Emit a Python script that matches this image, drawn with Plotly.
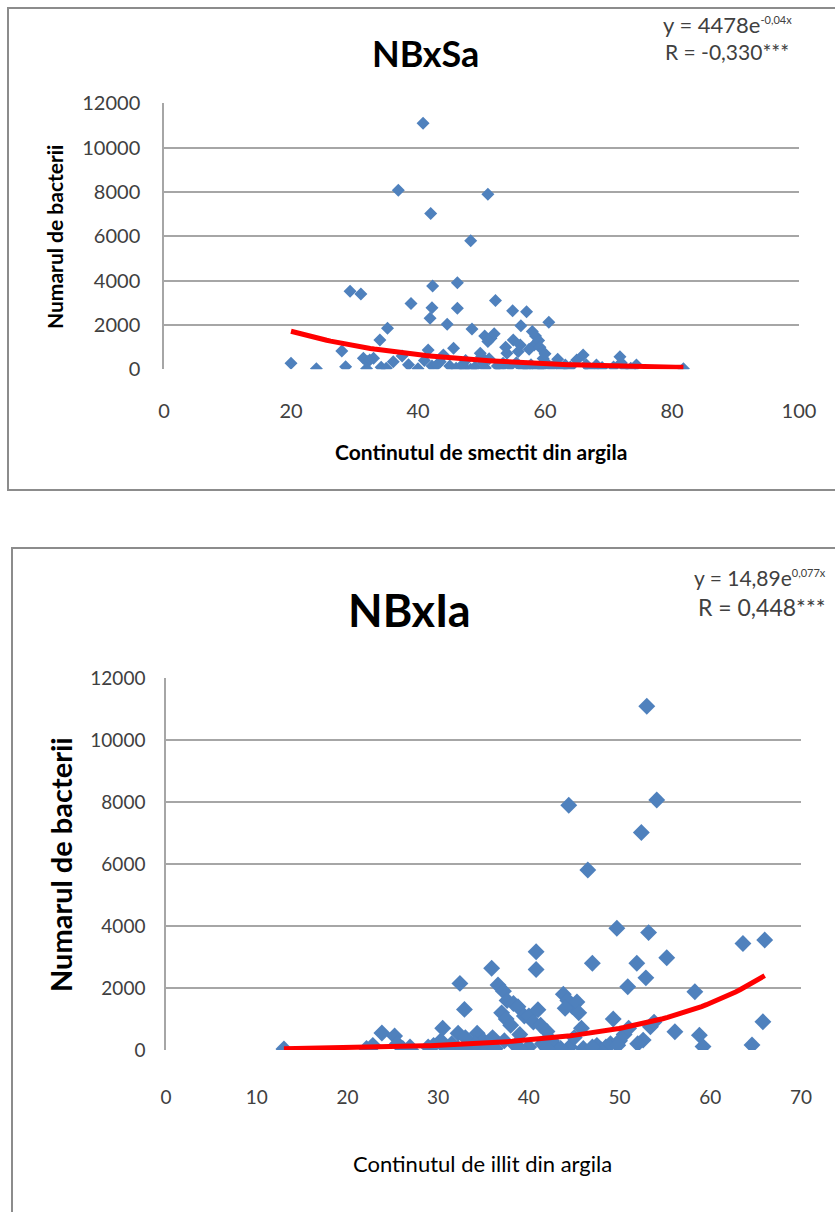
import numpy as np
import plotly.graph_objects as go

# ---------------- data: top chart (smectite content vs bacteria) ----------------
smectit_x = [20.0, 24.0, 28.0, 28.6, 29.3, 31.0, 31.4, 32.0, 32.4, 31.9, 34.0, 34.2, 35.2, 36.1,
             36.9, 38.9, 40.0, 40.8, 41.6, 41.9, 42.0, 42.2, 42.3, 42.2, 43.5, 44.0, 44.6, 45.6,
             46.0, 46.2, 46.2, 47.3, 48.3, 48.5, 48.3, 49.8, 50.0, 50.6, 50.5, 51.0, 51.0, 51.2,
             51.5, 52.0, 52.2, 53.4, 54.0, 54.9, 55.0, 56.1, 56.2, 57.1, 57.1, 58.0, 58.3, 58.5,
             58.9, 59.0, 59.7, 60.6, 61.8, 63.2, 65.0, 66.0, 68.1, 70.8, 71.8, 72.0, 74.4, 81.8,
             45.0, 47.0, 49.0, 52.5, 53.0, 54.5, 55.5, 56.5, 57.8, 59.5, 60.2, 61.0, 62.5, 64.0,
             66.5, 67.0, 69.0, 72.5, 73.5, 37.5, 38.5, 33.0, 35.0, 41.0, 43.0, 47.5, 50.3, 55.8,
             53.8, 57.5, 59.2, 60.0, 62.0]
smectit_bact = [270, 30, 830, 120, 3520, 3400, 500, 350, 420, 30, 1320, 90, 1850, 340,
                8080, 2970, 20, 11100, 870, 2300, 7030, 2780, 3760, 150, 340, 640, 2030, 950,
                50, 3900, 2750, 50, 5800, 1820, 0, 720, 570, 60, 1500, 1250, 7900, 480,
                1400, 1600, 3100, 270, 720, 2640, 1320, 1100, 1970, 2600, 100, 1700, 1100, 1500,
                0, 1300, 490, 2120, 270, 190, 420, 640, 190, 100, 570, 300, 190, 30,
                150, 200, 100, 150, 50, 150, 300, 50, 200, 80, 300, 100, 60, 100,
                200, 50, 80, 100, 50, 600, 200, 500, 50, 400, 200, 400, 300, 800,
                1000, 900, 1000, 700, 450]

# ---------------- data: bottom chart (illite content vs bacteria) ----------------
illit_x = [13.0, 22.1, 22.5, 22.8, 23.8, 25.2, 25.5, 26.1, 26.9, 28.9, 30.3, 30.5, 30.7, 31.5,
           32.2, 32.2, 32.4, 32.9, 33.5, 34.3, 34.5, 35.0, 35.5, 35.9, 36.0, 36.6, 36.3, 37.2,
           37.6, 38.3, 38.8, 37.0, 37.5, 38.0, 37.3, 38.5, 39.0, 39.5, 40.0, 40.5, 41.0, 41.3,
           40.0, 40.8, 40.8, 41.5, 42.0, 43.0, 43.8, 44.3, 44.8, 45.3, 45.5, 44.0, 44.4, 44.5,
           45.0, 46.0, 46.5, 47.0, 47.5, 48.0, 48.5, 49.0, 49.3, 49.7, 50.0, 50.5, 50.9, 51.9,
           52.4, 52.6, 52.9, 53.0, 53.2, 53.4, 53.8, 54.1, 55.2, 56.1, 58.3, 58.8, 59.2, 63.6,
           64.6, 65.8, 66.0, 34.0, 39.0, 42.5, 43.5, 47.0, 49.8, 51.0, 52.0, 33.0, 31.0, 29.5,
           27.0, 45.8, 42.0]
illit_bact = [30, 50, 0, 150, 550, 450, 200, 50, 100, 100, 300, 700, 100, 200,
              540, 50, 2150, 1310, 100, 540, 100, 300, 50, 2640, 400, 2100, 50, 1900,
              1600, 1500, 1400, 1200, 1000, 800, 300, 150, 500, 1100, 1100, 900, 1300, 800,
              100, 3170, 2600, 200, 600, 100, 1800, 1600, 1400, 1550, 1200, 1350, 7900, 100,
              400, 50, 5810, 2800, 150, 0, 100, 200, 1000, 3930, 300, 500, 2040, 2800,
              7020, 320, 2330, 11100, 3790, 750, 900, 8070, 2980, 590, 1880, 480, 110, 3440,
              160, 910, 3550, 200, 50, 300, 50, 100, 150, 700, 200, 400, 50, 150,
              0, 700, 50]

# trend-line parameters (y = a * exp(k x)); labels show rounded values
trend_top_a, trend_top_k = 4478.0, -0.048
trend_top_range = [20.0, 81.8]
trend_bot_a, trend_bot_k = 14.89, 0.077
trend_bot_range = [13.0, 66.0]

y_ticks = [0, 2000, 4000, 6000, 8000, 10000, 12000]
y_ticklabels = ["0", "2000", "4000", "6000", "8000", "10000", "12000"]
x_ticks_top = [0, 20, 40, 60, 80, 100]
x_ticks_bot = [0, 10, 20, 30, 40, 50, 60, 70]

W, H = 835, 1212
FONT = "Lato, 'Open Sans', sans-serif"
BLUE = "#4F81BD"
GRID = "#A6A6A6"
TXT = "#404040"


def px(x):
    return x / W


def py(y):
    return 1 - y / H


tx_top = np.linspace(*trend_top_range, 100)
ty_top = trend_top_a * np.exp(trend_top_k * tx_top)
tx_bot = np.linspace(*trend_bot_range, 100)
ty_bot = trend_bot_a * np.exp(trend_bot_k * tx_bot)

fig = go.Figure()
fig.add_trace(go.Scatter(x=smectit_x, y=smectit_bact, mode="markers",
                         marker=dict(symbol="diamond", size=10, color=BLUE),
                         xaxis="x", yaxis="y", showlegend=False))
fig.add_trace(go.Scatter(x=tx_top, y=ty_top, mode="lines",
                         line=dict(color="#FF0000", width=5),
                         xaxis="x", yaxis="y", showlegend=False))
fig.add_trace(go.Scatter(x=illit_x, y=illit_bact, mode="markers",
                         marker=dict(symbol="diamond", size=13, color=BLUE),
                         xaxis="x2", yaxis="y2", showlegend=False))
fig.add_trace(go.Scatter(x=tx_bot, y=ty_bot, mode="lines",
                         line=dict(color="#FF0000", width=5),
                         xaxis="x2", yaxis="y2", showlegend=False))

common_y = dict(range=[0, 12000], tickvals=y_ticks, ticktext=y_ticklabels, automargin=False,
                showgrid=True, gridcolor=GRID, gridwidth=1.5,
                zeroline=False, showline=True, linecolor=GRID, linewidth=1.5,
                ticks="outside", tickcolor="rgba(0,0,0,0)")
common_x = dict(showgrid=False, zeroline=False, showline=False, automargin=False,
                ticks="outside", tickcolor="rgba(0,0,0,0)")

fig.update_layout(
    width=W, height=H, margin=dict(l=0, r=0, t=0, b=0, pad=0), autosize=False,
    paper_bgcolor="white", plot_bgcolor="white",
    font=dict(family=FONT, color=TXT),
    xaxis=dict(domain=[px(164), px(799)], range=[0, 100], tickvals=x_ticks_top,
               ticktext=[str(v) for v in x_ticks_top],
               ticklen=24, tickfont=dict(size=20, color=TXT), anchor="y", **common_x),
    yaxis=dict(domain=[py(369.3), py(103.3)], ticklen=18, tickfont=dict(size=20, color=TXT),
               anchor="x", **common_y),
    xaxis2=dict(domain=[px(166), px(801)], range=[0, 70], tickvals=x_ticks_bot,
                ticktext=[str(v) for v in x_ticks_bot],
                ticklen=30, tickfont=dict(size=19, color=TXT), anchor="y2", **common_x),
    yaxis2=dict(domain=[py(1050), py(678.3)], ticklen=15, tickfont=dict(size=19, color=TXT),
                anchor="x2", **common_y),
)

shapes = [
    dict(type="rect", xref="paper", yref="paper", x0=px(8), x1=px(850), y0=py(490), y1=py(8),
         line=dict(color="#8C8C8C", width=2), fillcolor="rgba(0,0,0,0)", layer="below"),
    dict(type="rect", xref="paper", yref="paper", x0=px(12), x1=px(850), y0=py(1230), y1=py(548),
         line=dict(color="#8C8C8C", width=2), fillcolor="rgba(0,0,0,0)", layer="below"),
]
fig.update_layout(shapes=shapes)


def ann(text, x, y, size, color="black", bold=False, angle=0):
    if bold:
        text = "<b>" + text + "</b>"
    return dict(text=text, x=px(x), y=py(y), xref="paper", yref="paper", showarrow=False,
                xanchor="center", yanchor="middle", textangle=angle,
                font=dict(family=FONT, size=size, color=color))


annotations = [
    ann("NBxSa", 425, 53, 36, bold=True),
    ann("y = 4478e<sup><span style='font-size:11px'>-0,04x</span></sup>", 727, 24, 22, color=TXT),
    ann("R = -0,330***", 727, 52, 21, color=TXT),
    ann("Numarul de bacterii", 55, 237, 21, bold=True, angle=-90),
    ann("Continutul de smectit din argila", 481, 452, 21, bold=True),
    ann("NBxIa", 409, 610, 45, bold=True),
    ann("y = 14,89e<sup><span style='font-size:11px'>0,077x</span></sup>", 760, 577, 21, color=TXT),
    ann("R = 0,448***", 761, 607, 23, color=TXT),
    ann("Numarul de bacterii", 60, 865, 29, bold=True, angle=-90),
    ann("Continutul de illit din argila", 482, 1163, 22),
]
fig.update_layout(annotations=annotations)

fig.write_html("out.html", config={"displayModeBar": False, "responsive": False},
               post_script="document.body.style.margin='0';document.body.style.overflow='hidden';")
